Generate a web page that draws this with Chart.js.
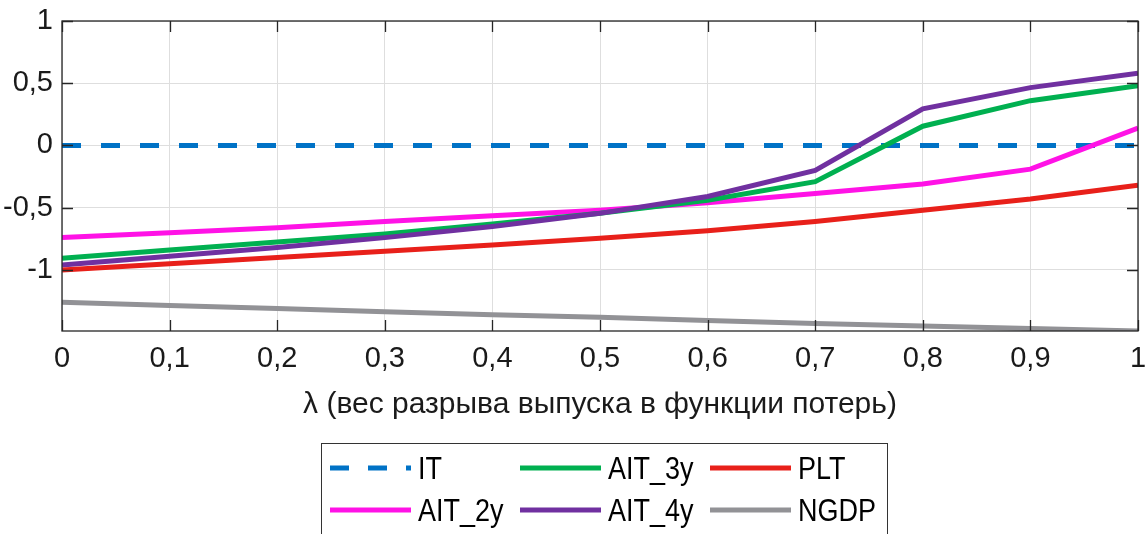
<!DOCTYPE html>
<html>
<head>
<meta charset="utf-8">
<script src="https://cdn.jsdelivr.net/npm/chart.js@4"></script>
<style>
  html, body { margin: 0; padding: 0; background: #fff; }
  #wrap { width: 1145px; height: 534px; }
</style>
</head>
<body>
<div id="wrap"><canvas id="chart" width="1145" height="534"></canvas></div>
<script>
// lambda values on the x axis
const lambdas = [0, 0.1, 0.2, 0.3, 0.4, 0.5, 0.6, 0.7, 0.8, 0.9, 1];
const xTicks = [0, 0.1, 0.2, 0.3, 0.4, 0.5, 0.6, 0.7, 0.8, 0.9, 1];
const yTicks = [-1, -0.5, 0, 0.5, 1];

const seriesNames = ["IT", "AIT_2y", "AIT_3y", "AIT_4y", "PLT", "NGDP"];
const itVals    = [0, 0, 0, 0, 0, 0, 0, 0, 0, 0, 0];
const ait2Vals  = [-0.74, -0.70, -0.66, -0.61, -0.565, -0.52, -0.46, -0.385, -0.31, -0.19, 0.14];
const ait3Vals  = [-0.905, -0.84, -0.775, -0.71, -0.63, -0.545, -0.44, -0.29, 0.155, 0.36, 0.48];
const ait4Vals  = [-0.96, -0.89, -0.82, -0.74, -0.65, -0.545, -0.41, -0.20, 0.295, 0.465, 0.58];
const pltVals   = [-1.0, -0.95, -0.90, -0.85, -0.80, -0.745, -0.685, -0.61, -0.52, -0.43, -0.32];
const ngdpVals  = [-1.26, -1.285, -1.31, -1.335, -1.36, -1.38, -1.405, -1.43, -1.45, -1.47, -1.49];

const colors = ["#0072C6", "#FF12E6", "#00B050", "#7030A0", "#E8201A", "#929296"];
const allVals = [itVals, ait2Vals, ait3Vals, ait4Vals, pltVals, ngdpVals];

const FONT = "'Liberation Sans', Arial, sans-serif";

function fmt(v) {
    let s = (Math.round(v * 10) / 10).toString();
    return s.replace(".", ",");
}

const datasets = seriesNames.map((name, i) => ({
    label: name,
    data: lambdas.map((x, j) => ({ x: x, y: allVals[i][j] })),
    borderColor: colors[i],
    borderWidth: 5,
    borderDash: i === 0 ? [19, 20] : [],
    pointRadius: 0,
    fill: false,
    tension: 0,
    order: seriesNames.length - i
}));

// box, inward ticks and legend
const decor = {
    id: "decor",
    afterDraw(chart) {
        const ctx = chart.ctx;
        const a = chart.chartArea;
        const xs = chart.scales.x, ys = chart.scales.y;
        ctx.save();
        ctx.strokeStyle = "#262626";
        ctx.lineWidth = 1.3;
        ctx.strokeRect(a.left, a.top, a.right - a.left, a.bottom - a.top);
        ctx.beginPath();
        xTicks.forEach(t => {
            const px = Math.round(xs.getPixelForValue(t)) + 0.5;
            ctx.moveTo(px, a.bottom); ctx.lineTo(px, a.bottom - 11);
            ctx.moveTo(px, a.top); ctx.lineTo(px, a.top + 11);
        });
        yTicks.forEach(t => {
            const py = Math.round(ys.getPixelForValue(t)) + 0.5;
            ctx.moveTo(a.left, py); ctx.lineTo(a.left + 11, py);
            ctx.moveTo(a.right, py); ctx.lineTo(a.right - 11, py);
        });
        ctx.stroke();

        // legend, 3 columns filled column by column
        const boxL = 321, boxT = 443, boxR = 887;
        ctx.fillStyle = "#fff";
        ctx.fillRect(boxL, boxT, boxR - boxL, 100);
        ctx.lineWidth = 1;
        ctx.strokeStyle = "#333";
        ctx.strokeRect(boxL + 0.5, boxT + 0.5, boxR - boxL, 100);
        const colX = [330, 520, 710];
        const rowY = [468, 510];
        chart.data.datasets.forEach((ds, i) => {
            const c = Math.floor(i / 2), r = i % 2;
            const x0 = colX[c], y0 = rowY[r];
            ctx.strokeStyle = ds.borderColor;
            ctx.lineWidth = 5;
            ctx.setLineDash(ds.borderDash.length ? [19, 19] : []);
            ctx.beginPath();
            ctx.moveTo(x0, y0); ctx.lineTo(x0 + 81, y0);
            ctx.stroke();
            ctx.setLineDash([]);
            ctx.save();
            ctx.translate(x0 + 88, y0 + 2);
            ctx.scale(1, 1.17);
            ctx.font = "27px " + FONT;
            ctx.textBaseline = "middle";
            ctx.fillStyle = "#000";
            ctx.fillText(ds.label, 0, 0);
            ctx.restore();
        });
        ctx.restore();
    }
};

new Chart(document.getElementById("chart"), {
    type: "line",
    data: { datasets: datasets },
    options: {
        responsive: false,
        animation: false,
        layout: { padding: { top: 21, right: 7, left: 0, bottom: 103 } },
        plugins: { legend: { display: false }, tooltip: { enabled: false } },
        scales: {
            x: {
                type: "linear",
                min: 0, max: 1,
                afterBuildTicks: s => { s.ticks = xTicks.map(v => ({ value: v })); },
                afterFit: s => { s.height = 100; s.paddingLeft = 0; s.paddingRight = 7; },
                ticks: {
                    callback: v => fmt(v),
                    font: { family: FONT, size: 29 },
                    color: "#1a1a1a",
                    padding: 11,
                    maxRotation: 0,
                    autoSkip: false
                },
                grid: { color: "#dedede", lineWidth: 1, drawTicks: false },
                border: { display: false },
                title: {
                    display: true,
                    text: "λ (вес разрыва выпуска в функции потерь)",
                    font: { family: FONT, size: 30 },
                    color: "#1a1a1a",
                    padding: { top: 0, bottom: 8 }
                }
            },
            y: {
                type: "linear",
                min: -1.49, max: 1,
                afterBuildTicks: s => { s.ticks = yTicks.map(v => ({ value: v })); },
                afterFit: s => { s.width = 62; s.paddingTop = 0; s.paddingBottom = 0; },
                ticks: {
                    callback: v => fmt(v),
                    font: { family: FONT, size: 29 },
                    color: "#1a1a1a",
                    padding: 9
                },
                grid: { color: "#dedede", lineWidth: 1, drawTicks: false },
                border: { display: false }
            }
        }
    },
    plugins: [decor]
});
</script>
</body>
</html>
